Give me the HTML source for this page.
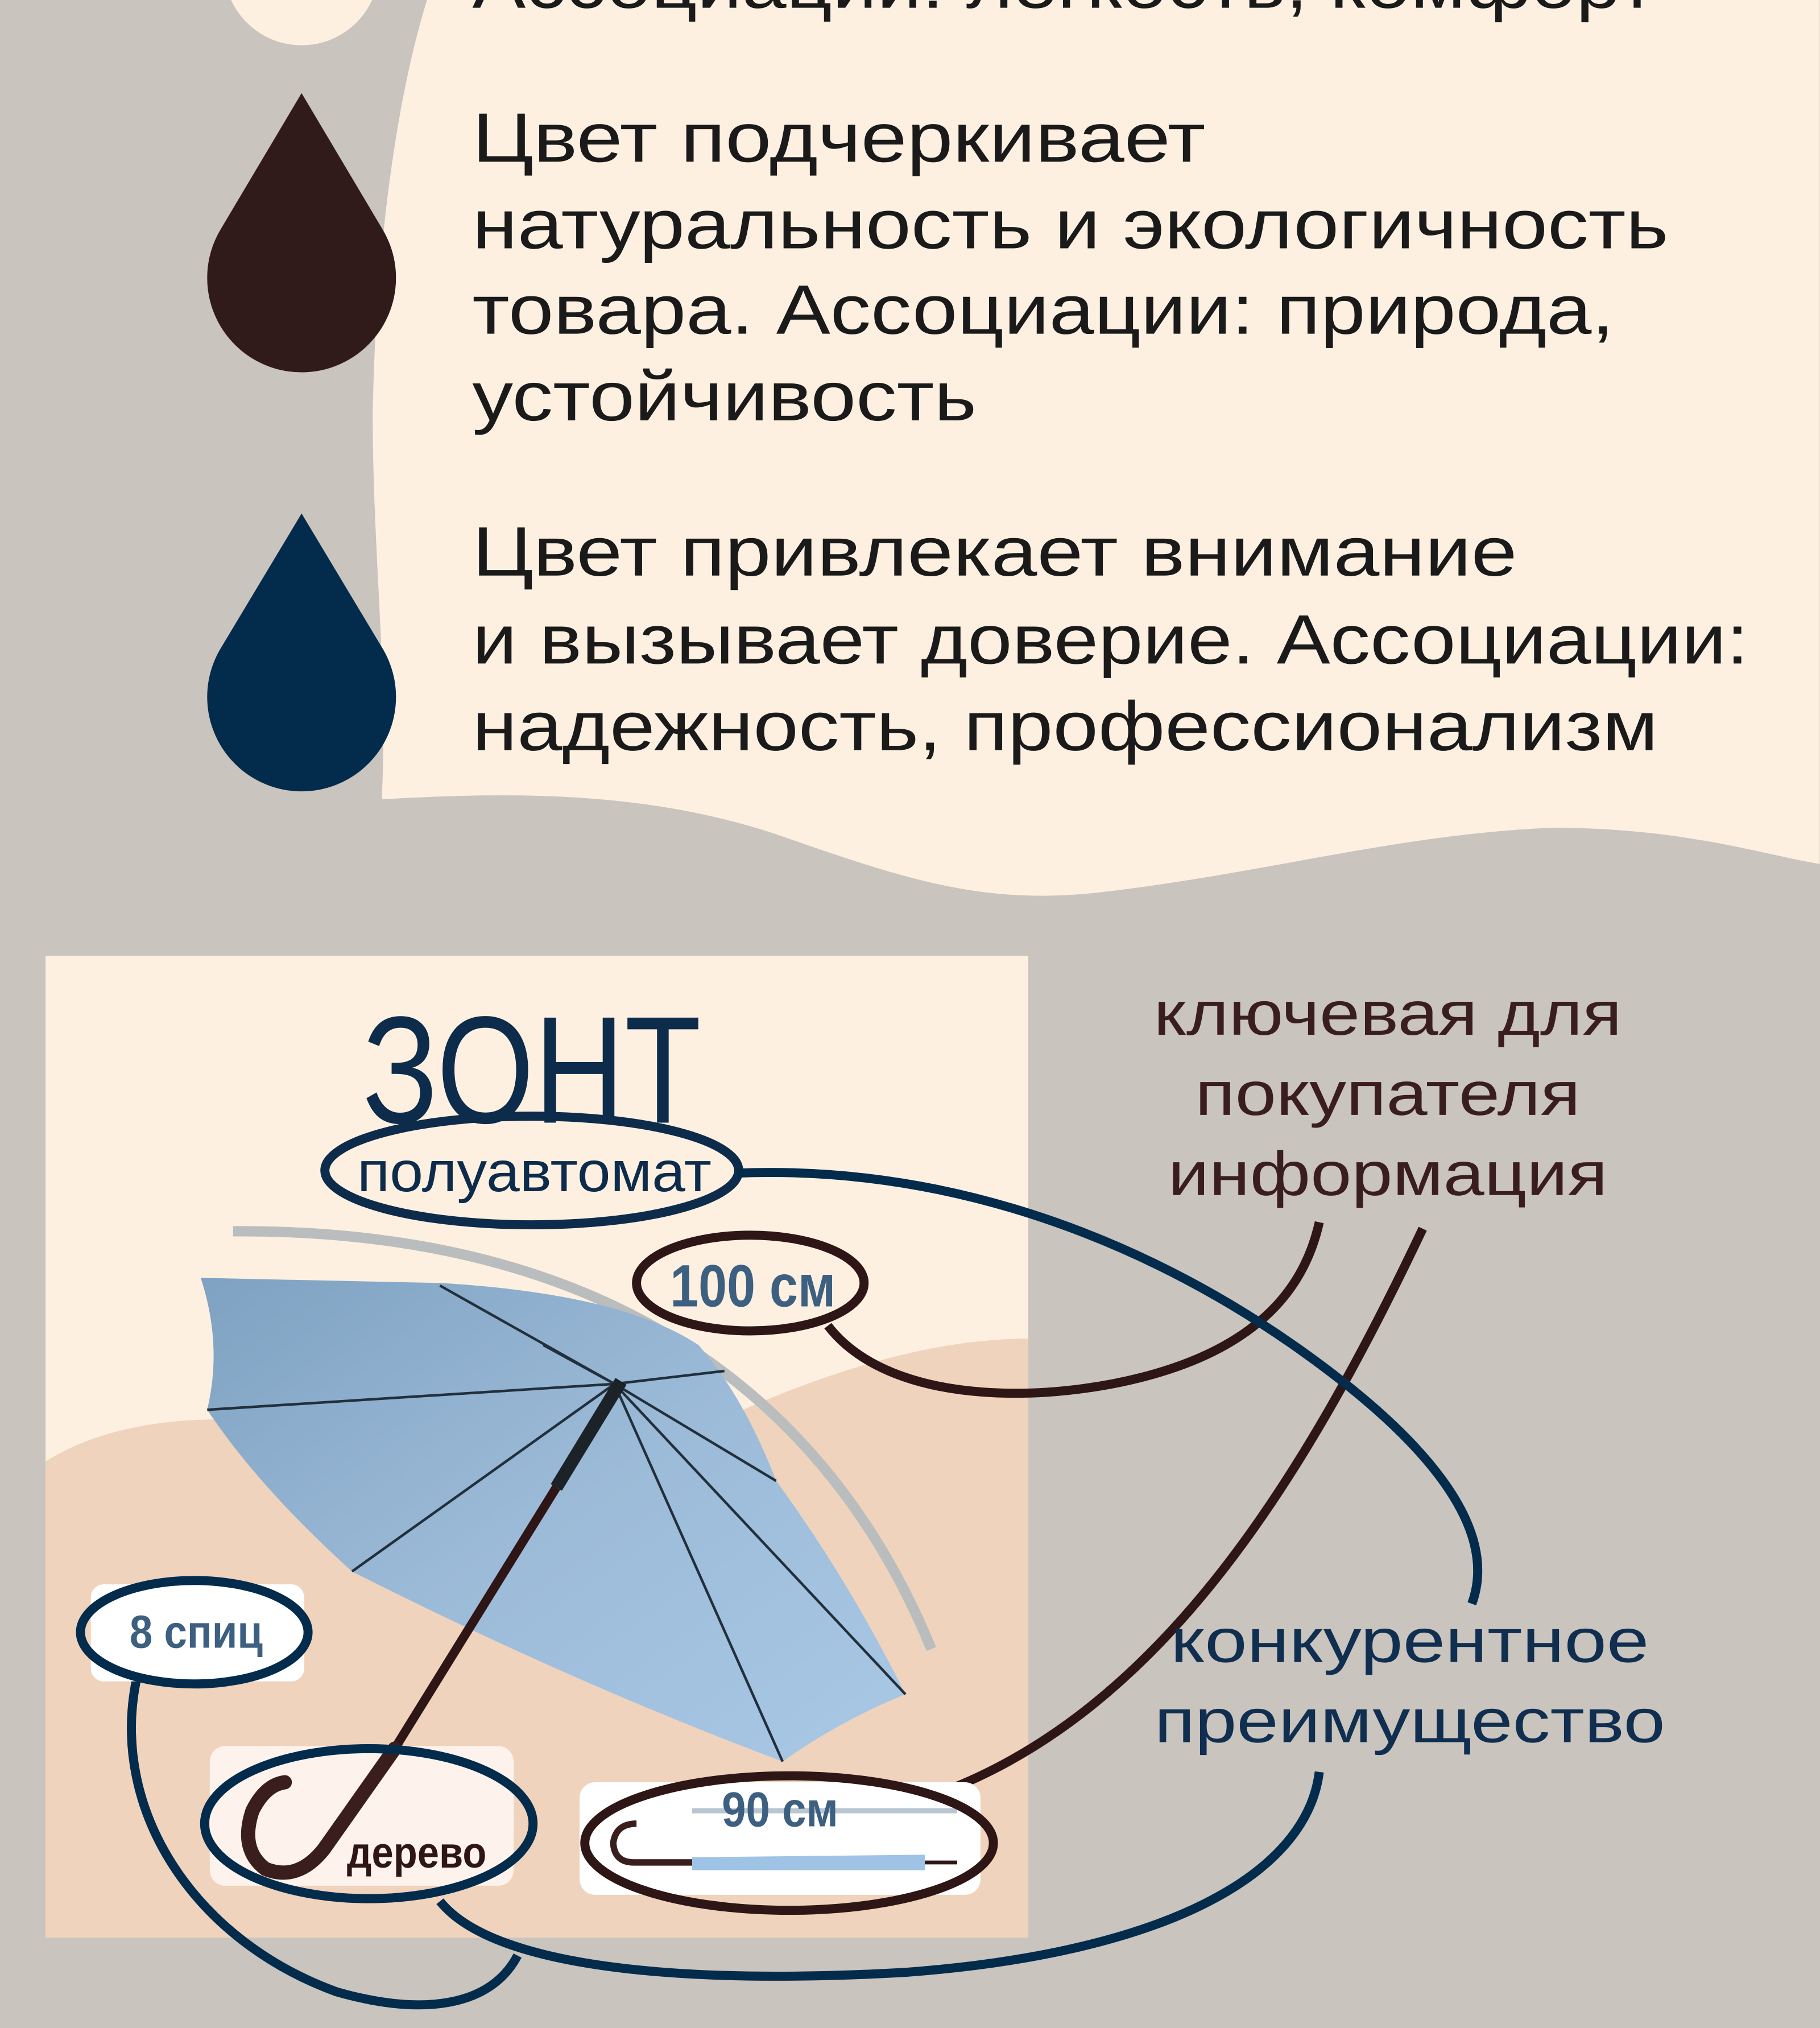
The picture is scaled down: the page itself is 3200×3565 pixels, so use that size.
<!DOCTYPE html>
<html><head><meta charset="utf-8"><style>
html,body{margin:0;padding:0;background:#c9c4bd;}
svg{display:block;}
text{font-family:"Liberation Sans","DejaVu Sans",sans-serif;}
</style></head><body>
<svg width="3200" height="3565" viewBox="0 0 1407 1568" xmlns="http://www.w3.org/2000/svg">
<defs>
<linearGradient id="can" x1="0" y1="0" x2="1" y2="1">
<stop offset="0" stop-color="#7fa2c2"/><stop offset="0.5" stop-color="#9cbbd8"/><stop offset="1" stop-color="#a8c8e6"/>
</linearGradient>
</defs>
<rect width="1407" height="1568" fill="#c9c4bd"/>
<path d="M330,0 C305,80 290,200 288,320 C288,430 300,520 295,618 C400,612 500,612 600,645 C700,680 760,700 850,690 C980,675 1080,645 1200,640 C1300,640 1360,660 1407,668 L1407,0 Z" fill="#fdf0e1"/>
<circle cx="233" cy="-25" r="60" fill="#fdf0e1"/>
<text x="365" y="6" font-size="54" fill="#1a1a1a" textLength="915" lengthAdjust="spacingAndGlyphs">Ассоциации: лёгкость, комфорт</text>
<path d="M233,72 L170,178 A73,73 0 1 0 296,178 Z" fill="#311a1a"/>
<path d="M233,397 L170,502 A73,73 0 1 0 296,502 Z" fill="#032b4c"/>
<g font-size="54" fill="#1a1a1a">
<text x="365" y="125" textLength="567" lengthAdjust="spacingAndGlyphs">Цвет подчеркивает</text>
<text x="365" y="192" textLength="925" lengthAdjust="spacingAndGlyphs">натуральность и экологичность</text>
<text x="365" y="258" textLength="883" lengthAdjust="spacingAndGlyphs">товара. Ассоциации: природа,</text>
<text x="365" y="325" textLength="390" lengthAdjust="spacingAndGlyphs">устойчивость</text>
<text x="365" y="445" textLength="808" lengthAdjust="spacingAndGlyphs">Цвет привлекает внимание</text>
<text x="365" y="513" textLength="987" lengthAdjust="spacingAndGlyphs">и вызывает доверие. Ассоциации:</text>
<text x="365" y="580" textLength="917" lengthAdjust="spacingAndGlyphs">надежность, профессионализм</text>
</g>
<rect x="35" y="739" width="760" height="759" fill="#fdf0e1"/>
<path d="M35,1130 C90,1095 180,1088 270,1110 C360,1135 430,1155 500,1125 C580,1085 690,1035 795,1035 L795,1498 L35,1498 Z" fill="#f0d3bc"/>
<text x="280" y="868" font-size="118" fill="#0d2b4a" textLength="262" lengthAdjust="spacingAndGlyphs">ЗОНТ</text>
<text x="276" y="921" font-size="44" fill="#0d2b4a" textLength="274" lengthAdjust="spacingAndGlyphs">полуавтомат</text>
<ellipse cx="411" cy="905" rx="160" ry="42" fill="none" stroke="#0d2b4a" stroke-width="7"/>
<path d="M180,952 C470,950 640,1080 720,1275" fill="none" stroke="#b9bdbd" stroke-width="8"/>
<path d="M155,988 L340,992 Q480,1000 540,1040 Q575,1080 600,1145 Q655,1220 700,1310 Q650,1330 605,1362 Q440,1300 272,1215 Q200,1150 160,1090 Q172,1040 155,988 Z" fill="url(#can)"/>
<g stroke="#22303c" stroke-width="2" fill="none">
<path d="M475,1070 L160,1090"/><path d="M475,1070 L340,994"/><path d="M475,1070 L600,1145"/>
<path d="M475,1070 L700,1310"/><path d="M475,1070 L605,1362"/><path d="M475,1070 L272,1215"/>
<path d="M475,1070 L560,1060"/><path d="M475,1070 L420,1040"/>
</g>
<path d="M480,1068 L430,1150" stroke="#1b2228" stroke-width="10"/>
<path d="M430,1150 L305,1352" stroke="#2e1616" stroke-width="7"/>
<ellipse cx="580" cy="992" rx="88" ry="37" fill="none" stroke="#2e1616" stroke-width="7"/>
<text x="518" y="1010" font-size="46" fill="#3d5f80" font-weight="bold" textLength="128" lengthAdjust="spacingAndGlyphs">100 см</text>
<path d="M640,1025 C690,1090 820,1085 900,1060 C980,1035 1010,990 1020,945" fill="none" stroke="#2e1616" stroke-width="7"/>
<path d="M730,1385 C900,1320 1010,1140 1100,950" fill="none" stroke="#2e1616" stroke-width="7"/>
<path d="M570,907 C750,900 900,970 1000,1040 C1100,1110 1160,1180 1138,1240" fill="none" stroke="#032b4c" stroke-width="7"/>
<path d="M1020,1370 C1010,1450 900,1510 700,1525 C520,1535 380,1520 340,1470" fill="none" stroke="#032b4c" stroke-width="7"/>
<path d="M105,1300 C85,1400 150,1500 260,1540 C330,1560 380,1550 400,1512" fill="none" stroke="#032b4c" stroke-width="7"/>
<rect x="70" y="1225" width="165" height="75" rx="10" fill="#fff"/>
<ellipse cx="150" cy="1262" rx="88" ry="40" fill="none" stroke="#032b4c" stroke-width="7"/>
<text x="100" y="1274" font-size="36" fill="#3d5f80" font-weight="bold" textLength="103" lengthAdjust="spacingAndGlyphs">8 спиц</text>
<rect x="162" y="1350" width="235" height="108" rx="12" fill="#fdf3ec"/>
<path d="M305,1352 L250,1430 Q230,1455 205,1445 Q185,1430 195,1400 Q205,1380 220,1378" fill="none" stroke="#3a1e1e" stroke-width="11" stroke-linecap="round"/>
<ellipse cx="285" cy="1410" rx="127" ry="58" fill="none" stroke="#032b4c" stroke-width="7"/>
<text x="268" y="1444" font-size="34" fill="#2e1616" font-weight="bold" textLength="108" lengthAdjust="spacingAndGlyphs">дерево</text>
<rect x="448" y="1378" width="310" height="87" rx="12" fill="#fff"/>
<line x1="535" y1="1400" x2="740" y2="1400" stroke="#b9c6d2" stroke-width="4"/>
<path d="M535,1440 L740,1440" stroke="#2e1616" stroke-width="3"/>
<path d="M535,1436 L715,1434 L715,1446 L535,1446 Z" fill="#9ec3e4"/>
<path d="M535,1440 L490,1440 Q475,1440 474,1425 Q476,1410 492,1410" fill="none" stroke="#3a1e1e" stroke-width="5"/>
<ellipse cx="610" cy="1425" rx="158" ry="52" fill="none" stroke="#2e1616" stroke-width="7"/>
<text x="558" y="1412" font-size="38" fill="#3d5f80" font-weight="bold" textLength="90" lengthAdjust="spacingAndGlyphs">90 см</text>
<g font-size="48" fill="#3a1e1e" text-anchor="middle">
<text x="1073" y="800" textLength="362" lengthAdjust="spacingAndGlyphs">ключевая для</text>
<text x="1073" y="862" textLength="298" lengthAdjust="spacingAndGlyphs">покупателя</text>
<text x="1073" y="924" textLength="340" lengthAdjust="spacingAndGlyphs">информация</text>
</g>
<g font-size="48" fill="#0f2e50" text-anchor="middle">
<text x="1090" y="1285" textLength="370" lengthAdjust="spacingAndGlyphs">конкурентное</text>
<text x="1090" y="1347" textLength="395" lengthAdjust="spacingAndGlyphs">преимущество</text>
</g>
</svg>
</body></html>
